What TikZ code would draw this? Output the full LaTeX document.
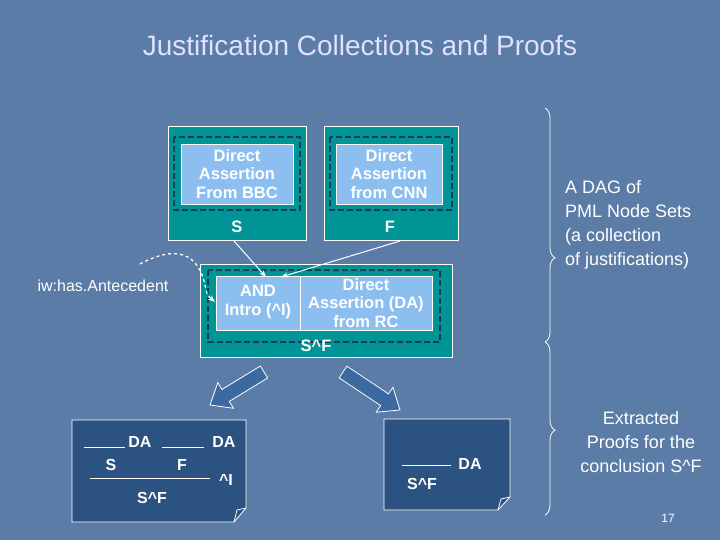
\documentclass[tikz,border=0pt]{standalone}
\usepackage{fontspec}
\setmainfont{Liberation Sans}
\usetikzlibrary{calc,arrows.meta,decorations.pathreplacing}
\definecolor{bg}{RGB}{92,124,168}
\definecolor{teal1}{RGB}{0,148,150}
\definecolor{lblue}{RGB}{140,190,240}
\definecolor{dteal}{RGB}{20,60,80}
\definecolor{note}{RGB}{44,82,130}
\definecolor{barrow}{RGB}{60,105,160}
\tikzset{
  setbox/.style={draw=white,fill=teal1,line width=0.8pt},
  dbox/.style={draw=dteal,dashed,line width=1.5pt,dash pattern=on 6pt off 3pt},
  ibox/.style={draw=white,fill=lblue,line width=0.6pt},
  wt/.style={text=white,font=\fontsize{16.5}{18.5}\selectfont\bfseries,align=center,inner sep=0},
  pt/.style={text=white,font=\fontsize{18}{24}\selectfont,inner sep=0},
  nt/.style={text=white,font=\fontsize{16}{16}\selectfont\bfseries,inner sep=0},
  conn/.style={white,line width=1pt,-{Stealth[length=7pt]}},
  notebox/.style={draw=white,fill=note,line width=0.8pt},
  brk/.style={white,line width=0.8pt,decorate},
}
\begin{document}
\begin{tikzpicture}[x=1pt,y=-1pt]
\fill[bg] (0,0) rectangle (720,540);
\useasboundingbox (0,0) rectangle (720,540);
% title
\node (title) [text=white!88!blue,font=\fontsize{28}{30}\selectfont] at (360,45) {Justification Collections and Proofs};
% S box
\draw[setbox] (168,126) rectangle (306,240);
\draw[dbox] (174,137) rectangle (300,210);
\draw[ibox] (181,144) rectangle (293,204);
\node (bbc) [wt] at (237,174) {Direct\\Assertion\\From BBC};
\node (S) [wt] at (237,227) {S};
% F box
\draw[setbox] (324,126) rectangle (458,240);
\draw[dbox] (330,137) rectangle (452,210);
\draw[ibox] (336,144) rectangle (442,204);
\node (cnn) [wt] at (389,174) {Direct\\Assertion\\from CNN};
\node (F) [wt] at (390,227) {F};
% S^F box
\draw[setbox] (200,264) rectangle (452,357);
\draw[dbox] (208,270) rectangle (440,342);
\draw[ibox] (216,276) rectangle (432,330);
\draw[white,line width=0.6pt] (300,276) -- (300,330);
\node (and) [wt] at (258,302) {AND\\Intro (\textasciicircum I)};
\node (rc) [wt] at (366,303) {Direct\\Assertion (DA)\\from RC};
\node (SF) [wt] at (316,346) {S\textasciicircum F};
\coordinate (andtop1) at (266,277);
\coordinate (andtop2) at (281,277);
\coordinate (sb) at (234,241);
\coordinate (fb) at (400,241);
\draw[conn] (sb) -- (andtop1);
\draw[conn] (fb) -- (andtop2);
% antecedent
\node (ante) [pt,font=\fontsize{16}{16}\selectfont] at (103,286) {iw:has.Antecedent};
\coordinate (antin) at (215,302);
\draw[white,line width=1.3pt,dashed,-{Stealth[length=7pt]}] (140,264) .. controls (185,240) and (200,262) .. (205,285) .. controls (207,295) .. (antin);
% block arrows
\foreach \A/\B/\L in {{(264,372)}/{(210,405)}/45, {(343,372)}/{(400,410)}/50}{
  \draw[white,fill=barrow,line width=0.8pt]
    let \p1=\A, \p2=\B in
    ($(\p1)!7pt!90:(\p2)$) -- ($($(\p1)!\L pt!(\p2)$)!7pt!90:(\p2)$)
    -- ($($(\p1)!\L pt!(\p2)$)!15pt!90:(\p2)$) -- (\p2)
    -- ($($(\p1)!\L pt!(\p2)$)!15pt!-90:(\p2)$)
    -- ($($(\p1)!\L pt!(\p2)$)!7pt!-90:(\p2)$) -- ($(\p1)!7pt!-90:(\p2)$) -- cycle;
}
% left note
\draw[notebox] (72,420) -- (246,420) -- (246,508) -- (234,522) -- (72,522) -- cycle;
\draw[white,line width=0.8pt] (246,508) -- (237,510) -- (234,522);
\draw[white,line width=0.8pt] (84,447) -- (125,447);
\node (da1) [nt] at (140,442) {DA};
\draw[white,line width=0.8pt] (162,447) -- (204,447);
\node (da2) [nt] at (224,442) {DA};
\node (s2) [nt] at (111,465) {S};
\node (f2) [nt] at (182,465) {F};
\draw[white,line width=0.8pt] (90,478) -- (210,478);
\node (ai) [nt] at (226,480) {\textasciicircum I};
\node (sf2) [nt] at (152,498) {S\textasciicircum F};
% right note
\draw[notebox] (384,419) -- (510,419) -- (510,497) -- (498,510) -- (384,510) -- cycle;
\draw[white,line width=0.8pt] (510,497) -- (501,499) -- (498,510);
\draw[white,line width=0.8pt] (402,465) -- (451,465);
\node (da3) [nt] at (470,464) {DA};
\node (sf3) [nt] at (422,484) {S\textasciicircum F};
% braces
\draw[brk,decoration={brace,amplitude=10pt,aspect=0.64}] (545,108) -- (545,342);
\draw[brk,decoration={brace,amplitude=10pt,aspect=0.51}] (545,342) -- (545,515);
\node (dag) [pt,align=left,anchor=north west] at (565,180) {A DAG of\\PML Node Sets\\(a collection\\of justifications)};
\node (ext) [pt,align=center] at (641,442) {Extracted\\Proofs for the\\conclusion S\textasciicircum F};
\node (num) [text=white,font=\fontsize{12}{12}\selectfont] at (668,518) {17};
\end{tikzpicture}
\end{document}
